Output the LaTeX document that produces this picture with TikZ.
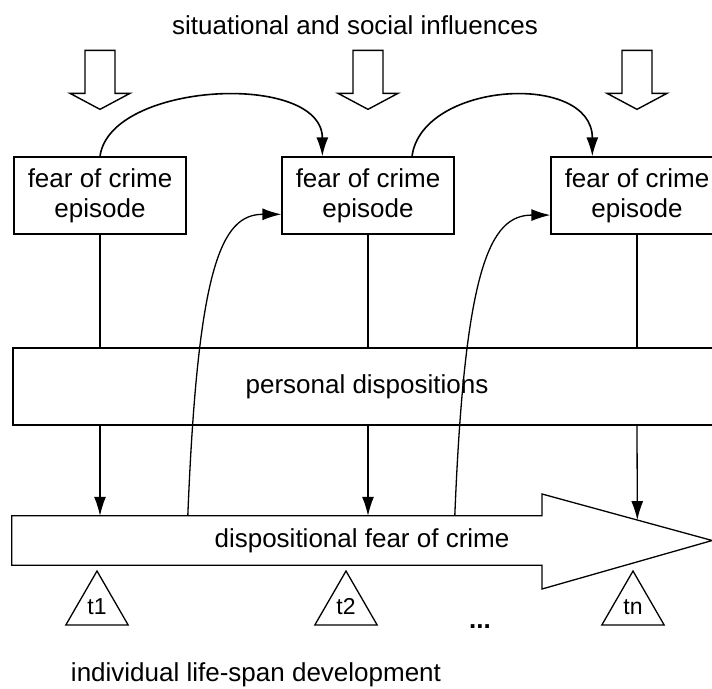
\documentclass[tikz,border=0pt]{standalone}
\usepackage{fontspec}
\setmainfont{Liberation Sans}
\usetikzlibrary{arrows.meta,calc,shapes.geometric}
\tikzset{
	% box of one fear of crime episode
	episode/.style={draw,line width=1.3pt,minimum width=172pt,minimum height=77pt,align=center,inner sep=0pt},
	% broad bar behind the episodes
	bar/.style={draw,line width=1.3pt,minimum width=708pt,minimum height=77pt},
	% small triangles on the time line
	timemark/.style={draw,line width=1.3pt,regular polygon,regular polygon sides=3,minimum size=72pt,inner sep=0pt,font=\fontsize{23}{23}\selectfont},
	flow/.style={line width=1.3pt,-{Latex[length=19pt,width=12pt]}},
	influence/.style={draw,line width=1.4pt,fill=white},
}
\begin{document}
\begin{tikzpicture}[x=1pt,y=1pt,font=\fontsize{26}{30}\selectfont]
		\useasboundingbox (0,0) rectangle (712,-688);
		\clip (0,0) rectangle (712,-688);
		\node (title) at (355,-25) {situational and social influences};
		\node[episode] (ep1) at (100,-195.5) {fear of crime\\episode};
		\node[episode] (ep2) at (368,-195.5) {fear of crime\\episode};
		\node[episode] (ep3) at (637,-195.5) {fear of crime\\episode};
		\node[bar] (pd) at (367,-386.5) {personal dispositions};
		\node[minimum width=700pt,minimum height=49pt,inner sep=0pt] (disp) at (362,-540.5) {dispositional fear of crime};
		\coordinate (headtop) at (542,-494);
		\coordinate (headbot) at (542,-589);
		\draw[line width=1.3pt] (disp.north west) -- (disp.north west -| headtop) -- (headtop) -- (disp.east)
		-- (headbot) -- (disp.south west -| headbot) -- (disp.south west) -- cycle;
		% influences from above
		\foreach \e in {ep1,ep2,ep3}
		\draw[influence] ($(\e.north)+(0,47)$) -- ++(-30,16) -- ++(15,0) -- ++(0,43) -- ++(30,0) -- ++(0,-43) -- ++(15,0) -- cycle;
		\foreach \e in {ep1,ep2,ep3}
		\draw[line width=1.3pt] (\e.south) -- (\e.south |- pd.north);
		\draw[flow] (pd.south -| ep1.south) -- (disp.north -| ep1.south);
		\draw[flow] (pd.south -| ep2.south) -- (disp.north -| ep2.south);
		\draw[flow] (pd.south -| ep3.south) -- ($(headtop)!0.56!(disp.east)$);
		% episode to episode
		\draw[flow,line width=1.6pt] (ep1.north) .. controls +(10,75) and +(0,85) .. ($(ep2.north west)+(41,0)$);
		\draw[flow,line width=1.6pt] ($(ep2.north)+(44,0)$) .. controls +(10,75) and +(0,85) .. ($(ep3.north west)+(42,0)$);
		% back from the disposition
		\draw[flow] ($(disp.north west)+(176,0)$) .. controls +(10,250) and +(-60,0) .. ($(ep2.north west)!0.74!(ep2.south west)$);
		\draw[flow] ($(disp.north west)+(443,0)$) .. controls +(10,250) and +(-60,0) .. ($(ep3.north west)!0.75!(ep3.south west)$);
		\node[timemark] (t1) at (97,-607) {t1};
		\node[timemark] (t2) at (346,-607) {t2};
		\node[timemark] (tn) at (633,-607) {tn};
		\node (dots) at (480,-627) {\bfseries ...};
		\node (life) at (256,-675) {individual life-span development};
\end{tikzpicture}
\end{document}
